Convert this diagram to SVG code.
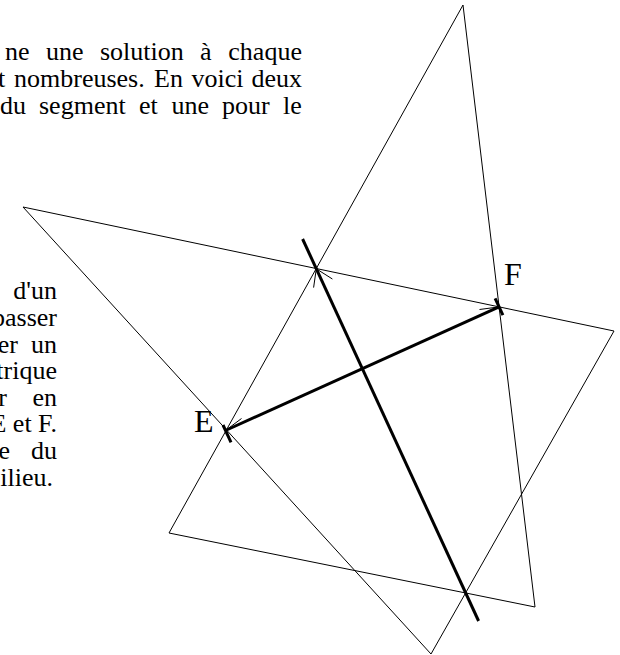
<svg xmlns="http://www.w3.org/2000/svg" width="620" height="655" viewBox="0 0 620 655">
<style>
.txt{font-family:"Liberation Serif","Times New Roman",serif;font-size:26px;fill:#000}
.lbl{font-family:"Liberation Serif","Times New Roman",serif;font-size:32px;fill:#000}
.thin{fill:none;stroke:#000;stroke-width:1}
.thick{fill:none;stroke:#000;stroke-width:3}
</style>
<rect width="620" height="655" fill="#fff"/>
<g id="text-top" class="txt">
<text y="60"><tspan x="5">ne</tspan><tspan x="46">une</tspan><tspan x="100">solution</tspan><tspan x="200">à</tspan><tspan x="228.3">chaque</tspan></text>
<text y="87"><tspan x="-2">t</tspan><tspan x="14">nombreuses.</tspan><tspan x="154">En</tspan><tspan x="191.5">voici</tspan><tspan x="251.5">deux</tspan></text>
<text y="114"><tspan x="0">du</tspan><tspan x="39">segment</tspan><tspan x="139">et</tspan><tspan x="171.5">une</tspan><tspan x="222">pour</tspan><tspan x="283">le</tspan></text>
</g>
<g id="text-left" class="txt" text-anchor="end">
<text x="57" y="299">d'un</text>
<text x="57" y="326">basser</text>
<text y="352.5"><tspan x="18">er</tspan><tspan x="57">un</tspan></text>
<text x="57" y="379">trique</text>
<text y="405.5"><tspan x="7">r</tspan><tspan x="57">en</tspan></text>
<text x="57" y="432">E et F.</text>
<text y="459"><tspan x="10">e</tspan><tspan x="57">du</tspan></text>
<text x="53" y="485.5">ilieu.</text>
</g>
<g id="triangle-1">
<polygon class="thin" points="463,5 169,533 535,607"/>
</g>
<g id="triangle-2">
<polygon class="thin" points="23,207 614,331 431,654"/>
</g>
<g id="connectors">
<line id="segment-EF" class="thick" x1="225.5" y1="430.5" x2="499.1" y2="306.9"/>
<line id="bisector" class="thick" x1="302.6" y1="239" x2="478.6" y2="621"/>
<line class="thick" x1="223" y1="425" x2="231" y2="442.3"/>
<line class="thick" x1="495.1" y1="298.3" x2="502.9" y2="315.1"/>
<line class="thin" x1="225.5" y1="430.5" x2="241.5" y2="418.5"/>
<line class="thin" x1="499.1" y1="306.9" x2="479.5" y2="309.5"/>
<polyline class="thin" points="332.4,279 316.3,268.8 313.6,287.6"/>
</g>
<g id="node-E"><text class="lbl" x="194" y="432">E</text></g>
<g id="node-F"><text class="lbl" x="504" y="285">F</text></g>
</svg>
